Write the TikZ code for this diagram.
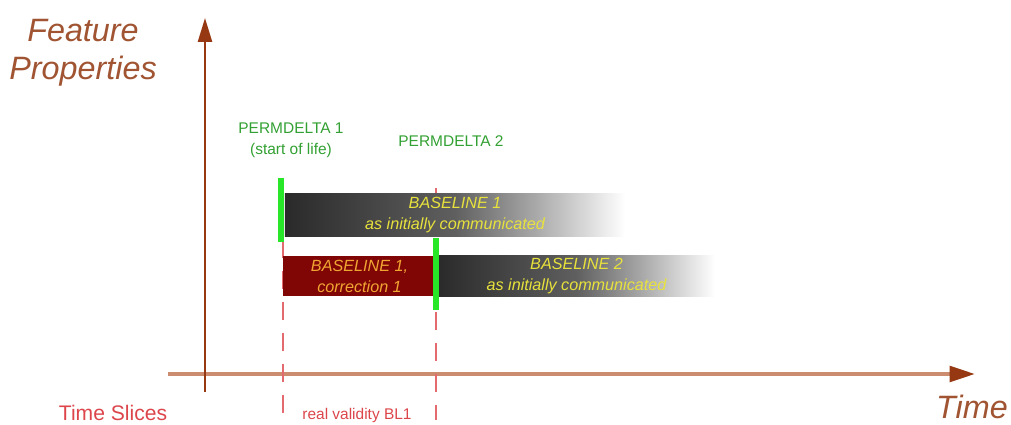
\documentclass[tikz,border=0pt]{standalone}
\usepackage{fontspec}
\setmainfont{Liberation Sans}
\usetikzlibrary{arrows.meta,positioning}

\definecolor{axisdark}{RGB}{150,56,18}
\definecolor{axislight}{RGB}{204,140,112}
\definecolor{labelbrown}{RGB}{160,84,50}
\definecolor{slicered}{RGB}{220,70,75}
\definecolor{permgreen}{RGB}{50,160,50}
\definecolor{markgreen}{RGB}{40,230,40}
\definecolor{corrred}{RGB}{128,6,6}
\definecolor{bartext}{RGB}{232,226,60}
\definecolor{corrtext}{RGB}{240,165,50}
\definecolor{bardark}{RGB}{42,42,42}

\pgfdeclarehorizontalshading{fadebar}{100bp}{color(0bp)=(bardark); color(25bp)=(bardark);
  color(50bp)=(bardark!75!white); color(62bp)=(bardark!40!white); color(75bp)=(white); color(100bp)=(white)}

\begin{document}
\begin{tikzpicture}
    [x=0.025cm, y=-0.025cm,
    axis/.style={line width=1.5pt, draw=axisdark, -{Triangle[length=17pt, width=10pt]}},
    timeaxis/.style={line width=2.8pt, draw=axislight, -{Triangle[length=18pt, width=11pt, color=axisdark]}},
    slice/.style={draw=slicered!80!white, line width=1.4pt, dash pattern=on 13pt off 9pt},
    bar/.style={minimum height=1.05cm, inner sep=0pt, align=center, font=\itshape\fontsize{11.5}{13}\selectfont, text=bartext},
    fade/.style={bar, shading=fadebar},
    corr/.style={bar, fill=corrred, text=corrtext, minimum height=1cm},
    permmark/.style={draw=markgreen, line width=4.3pt},
    perm/.style={text=permgreen, font=\fontsize{11}{13}\selectfont, align=center, inner sep=0pt},
    axislabel/.style={text=labelbrown, font=\itshape\fontsize{23}{27}\selectfont, inner sep=0pt}]
        \useasboundingbox (0,0) rectangle (1011,425);

        % axes
        \coordinate (O1) at (205,392);
        \coordinate (Y) at (205,18);
        \coordinate (O2) at (168,374);
        \coordinate (X) at (975,374);
        \draw[timeaxis] (O2) -- (X);
        \draw[axis] (O1) -- (Y);

        \node[axislabel, align=center] (FP) at (83,53) {Feature\\Properties};
        \node[axislabel, anchor=east] (T) at (1008,407) {Time};
        \node[text=slicered, font=\fontsize{15}{17}\selectfont] (TS) at (113,413) {Time Slices};
        \node[text=slicered, font=\fontsize{11}{13}\selectfont] (RV) at (357,415) {real validity BL1};

        % time slices
        \coordinate (S1a) at (283,178);
        \coordinate (S1b) at (283,420);
        \coordinate (S2a) at (436,188);
        \coordinate (S2b) at (436,420);
        \draw[slice] (S1a) -- (S1b);
        \draw[slice] (S2a) -- (S2b);

        % baselines
        \node[fade, minimum width=8.5cm] (B1) at (455,215) {BASELINE 1\\[2pt]as initially communicated};
        \node[corr, minimum width=3.825cm] (C1) at (359.5,276) {BASELINE 1,\\[2pt]correction 1};
        \node[fade, minimum width=6.925cm, minimum height=1cm] (B2) at (576.5,276) {BASELINE 2\\[2pt]as initially communicated};

        % permdeltas
        \coordinate (P1a) at (281,178);
        \coordinate (P1b) at (281,242);
        \coordinate (P2a) at (436,238);
        \coordinate (P2b) at (436,310);
        \draw[permmark] (P1a) -- (P1b);
        \draw[permmark] (P2a) -- (P2b);
        \node[perm] (PD1) at (291,140) {PERMDELTA 1\\[2pt](start of life)};
        \node[perm] (PD2) at (451,141) {PERMDELTA 2};
   \end{tikzpicture}
\end{document}
